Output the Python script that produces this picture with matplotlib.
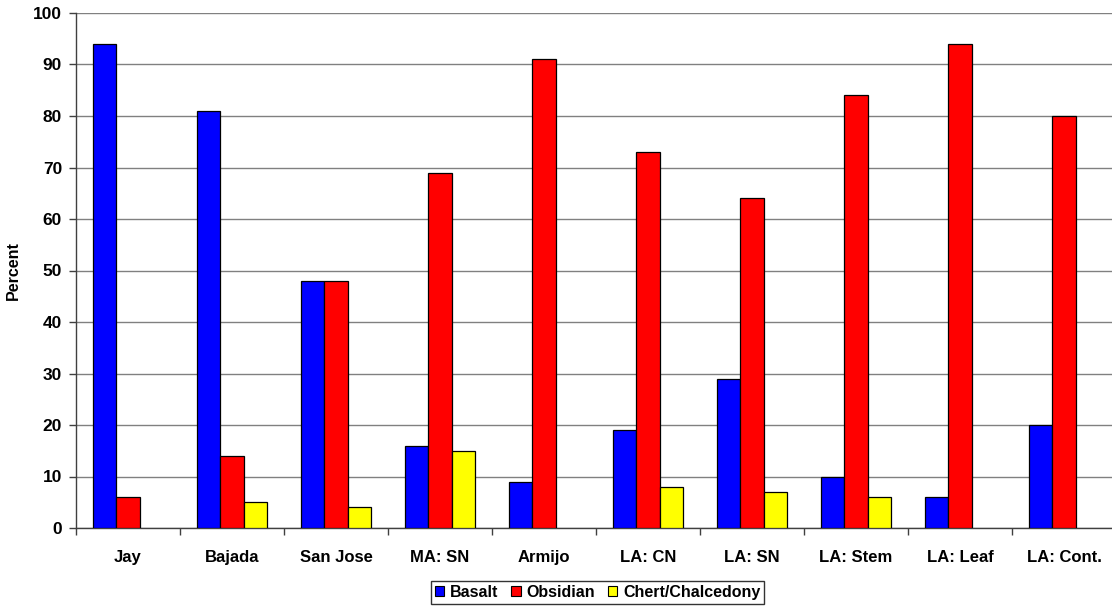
import matplotlib
matplotlib.use("Agg")
import matplotlib.pyplot as plt
from matplotlib.patches import Patch
import numpy as np

categories = ["Jay", "Bajada", "San Jose", "MA: SN", "Armijo",
              "LA: CN", "LA: SN", "LA: Stem", "LA: Leaf", "LA: Cont."]
basalt = [94, 81, 48, 16, 9, 19, 29, 10, 6, 20]
obsidian = [6, 14, 48, 69, 91, 73, 64, 84, 94, 80]
chert = [0, 5, 4, 15, 0, 8, 7, 6, 0, 0]
series_names = ["Basalt", "Obsidian", "Chert/Chalcedony"]
colors = ["#0000FF", "#FF0000", "#FFFF00"]

plt.rcParams["font.family"] = ["Liberation Sans", "DejaVu Sans"]
plt.rcParams["font.weight"] = "bold"

fig = plt.figure(figsize=(11.12, 6.07), dpi=100)
W, H = 1112, 607
ax = fig.add_axes([76 / W, 1 - 528 / H, 1040 / W, (528 - 13) / H])

x = np.arange(len(categories))
bw = 0.226
for k, (vals, c) in enumerate(zip([basalt, obsidian, chert], colors)):
    bars = ax.bar(x + (k - 1) * bw, vals, width=bw, color=c, edgecolor="black",
                  linewidth=0.9, zorder=3)
    # empty categories get no outline either
    for b, v in zip(bars, vals):
        if v == 0:
            b.set_visible(False)

ax.set_xlim(-0.5, len(categories) - 0.5)
ax.set_ylim(0, 100)
ax.set_yticks(np.arange(0, 101, 10))
ax.yaxis.grid(True, color="#808080", linewidth=1.0, zorder=0)
ax.set_axisbelow(True)

ax.set_xticks(x)
ax.set_xticklabels(categories, fontsize=12, fontweight="bold")
ax.set_xticks(np.arange(-0.5, len(categories), 1), minor=True)
ax.tick_params(axis="x", which="major", length=0, pad=16)
ax.tick_params(axis="x", which="minor", length=5, width=1, color="#404040")
ax.tick_params(axis="y", length=5, width=1, color="#404040", labelsize=12.5, pad=5)
for lab in ax.get_yticklabels():
    lab.set_fontweight("bold")

for s in ["top", "right"]:
    ax.spines[s].set_visible(False)
for s in ["left", "bottom"]:
    ax.spines[s].set_color("#404040")
    ax.spines[s].set_linewidth(1.0)

ax.set_ylabel("Percent", fontsize=11.5, fontweight="bold")
ax.yaxis.set_label_coords((21 - 76) / 1040, 0.5)

handles = [Patch(facecolor=c, edgecolor="black", linewidth=0.8, label=n)
           for c, n in zip(colors, series_names)]
leg = fig.legend(handles=handles, loc="center", ncol=3,
                 bbox_to_anchor=(597.5 / W, 1 - 592.5 / H),
                 frameon=True, fancybox=False, edgecolor="black",
                 prop={"size": 11.5, "weight": "bold"},
                 handlelength=0.6, handleheight=0.6, handletextpad=0.35,
                 columnspacing=0.8, borderpad=0.25, borderaxespad=0)
leg.get_frame().set_linewidth(1.0)

fig.savefig("out.png", dpi=100)
